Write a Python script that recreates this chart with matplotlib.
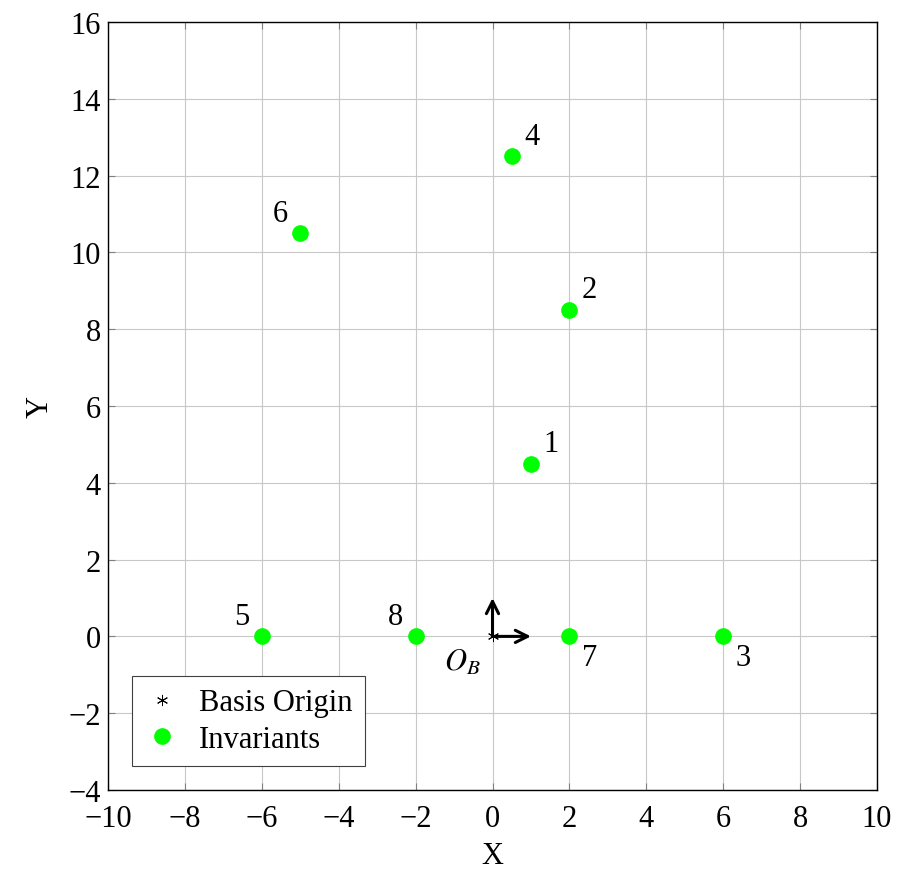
import matplotlib
matplotlib.use('Agg')
import matplotlib.pyplot as plt
import numpy as np

# invariant points and their labels
inv_x = [1, 2, 6, 0.5, -6, -5, 2, -2]
inv_y = [4.5, 8.5, 0, 12.5, 0, 10.5, 0, 0]
inv_labels = ['1', '2', '3', '4', '5', '6', '7', '8']
# where each label sits relative to its point
label_pos = ['ur', 'ur', 'lr', 'ur', 'ul', 'ul', 'lr', 'ul']

origin = (0, 0)
basis_x = (1, 0)
basis_y = (0, 1)

xticks = np.arange(-10, 11, 2)
yticks = np.arange(-4, 17, 2)

FS = 22

plt.rcParams['font.family'] = ['Liberation Serif', 'DejaVu Serif']
plt.rcParams['mathtext.fontset'] = 'stix'
plt.rcParams['axes.unicode_minus'] = True

fig = plt.figure(figsize=(8.99, 8.78), dpi=100)
ax = fig.add_axes([108 / 899, 87 / 878, 769 / 899, 768 / 878])

ax.set_xlim(-10, 10)
ax.set_ylim(-4, 16)
ax.set_xticks(xticks)
ax.set_yticks(yticks)
ax.grid(True, color='#c8c8c8', lw=0.8)
ax.set_axisbelow(True)
ax.tick_params(direction='in', length=5, width=0.8, color='#808080',
               top=True, right=True, labelsize=FS)
ax.tick_params(axis='x', pad=10)
ax.tick_params(axis='y', pad=5)
for sp in ax.spines.values():
    sp.set_linewidth(1.0)

ax.plot([origin[0]], [origin[1]], linestyle='none', marker=(6, 2, 0),
        ms=8, mew=0.7, color='black', label='Basis Origin', zorder=4)
for vec in (basis_x, basis_y):
    ax.annotate('', xy=vec, xytext=origin,
                arrowprops=dict(arrowstyle='->', lw=2.2, color='black',
                                mutation_scale=22, shrinkA=0, shrinkB=0),
                zorder=5)
ax.text(origin[0] - 0.3, origin[1] - 0.3, r'$O_B$', fontsize=FS,
        ha='right', va='top')

ax.plot(inv_x, inv_y, linestyle='none', marker='o', ms=11,
        color='#00ff00', label='Invariants', zorder=3)

offsets = {'ur': (9, 4, 'left', 'bottom'),
           'ul': (-9, 4, 'right', 'bottom'),
           'lr': (9, -5, 'left', 'top')}
for x, y, lab, pos in zip(inv_x, inv_y, inv_labels, label_pos):
    dx, dy, ha, va = offsets[pos]
    ax.annotate(lab, (x, y), xytext=(dx, dy), textcoords='offset points',
                ha=ha, va=va, fontsize=FS)

ax.set_xlabel('X', fontsize=FS, labelpad=6)
ax.set_ylabel('Y', fontsize=FS, labelpad=10)

leg = ax.legend(loc='lower left', bbox_to_anchor=(0.031, 0.031),
                borderaxespad=0, fontsize=FS, fancybox=False,
                edgecolor='#404040', framealpha=1, handlelength=1.2,
                handletextpad=0.6, borderpad=0.4, labelspacing=0.25)
leg.get_frame().set_linewidth(0.8)

fig.savefig('out.png', dpi=100)
